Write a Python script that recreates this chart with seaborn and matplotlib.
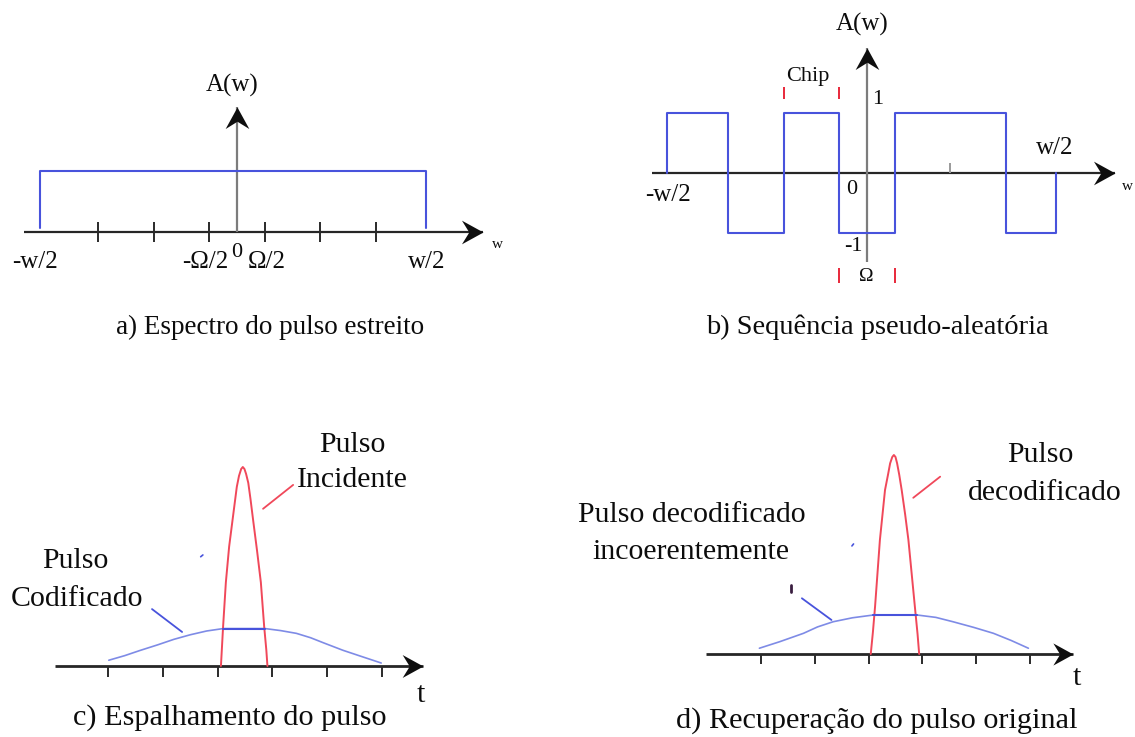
import matplotlib
matplotlib.use("Agg")
import matplotlib.pyplot as plt
from matplotlib.path import Path
import seaborn as sns

# ---------------- a) spectrum of the narrow pulse ----------------
a_band_edges = [-3.55, 3.40]          # -w/2 ... w/2 (in units of Omega)
a_band_level = 1.0
a_ticks = [-2.5, -1.5, -0.5, 0.5, 1.5, 2.5]
a_tick_text = ["-w/2", "-\u03a9/2", "0", "\u03a9/2", "w/2"]
a_tick_text_x = [-3.63, -0.58, 0.0, 0.54, 3.42]

# ---------------- b) pseudo-random sequence ----------------
b_chip_edges = [-3.6, -2.5, -1.5, -0.5, 0.5, 1.5, 2.5, 3.4]
b_chip_values = [1, -1, 1, -1, 1, 1, -1]
b_chip_ticks = [-2.5, -1.5, -0.5, 0.5, 1.5, 2.5]
b_chip_marker = [-1.5, -0.5]          # one chip width
b_omega_marker = [-0.5, 0.5]          # Omega

# ---------------- c) pulse spreading ----------------
c_ticks = [-2.5, -1.5, -0.5, 0.5, 1.5, 2.5]
c_incident_t = [-0.44, -0.42, -0.40, -0.35, -0.29, -0.22, -0.15, -0.11, -0.07,
                -0.04, -0.01, 0.02, 0.06, 0.10, 0.15, 0.22, 0.29, 0.35, 0.39, 0.41]
c_incident_amp = [0.0, 0.10, 0.20, 0.42, 0.60, 0.75, 0.90, 0.955, 0.99,
                  1.0, 0.99, 0.965, 0.92, 0.84, 0.73, 0.58, 0.42, 0.20, 0.08, 0.0]
c_coded_t = [-2.49, -2.20, -1.92, -1.60, -1.30, -1.00, -0.70, -0.40,
             0.37, 0.65, 0.94, 1.20, 1.43, 1.79, 2.15, 2.49]
c_coded_amp = [0.029, 0.052, 0.078, 0.106, 0.134, 0.157, 0.176, 0.188,
               0.188, 0.178, 0.164, 0.142, 0.117, 0.079, 0.046, 0.015]

# ---------------- d) recovery of the original pulse ----------------
d_ticks = [-2.5, -1.5, -0.5, 0.5, 1.5, 2.5]
d_decoded_t = [-0.46, -0.42, -0.38, -0.29, -0.195, -0.14, -0.10, -0.06,
               -0.03, 0.00, 0.03, 0.07, 0.115, 0.18, 0.24, 0.36, 0.41, 0.44]
d_decoded_amp = [0.0, 0.11, 0.238, 0.573, 0.824, 0.90, 0.958, 0.99,
                 1.0, 0.99, 0.958, 0.90, 0.824, 0.70, 0.573, 0.238, 0.10, 0.0]
d_incoherent_t = [-2.53, -2.15, -1.71, -1.45, -1.16, -0.80, -0.41,
                  0.40, 0.75, 1.07, 1.45, 1.82, 2.15, 2.47]
d_incoherent_amp = [0.029, 0.062, 0.104, 0.136, 0.162, 0.182, 0.196,
                    0.196, 0.184, 0.162, 0.134, 0.104, 0.068, 0.029]

# ---------------- style ----------------
sns.set_theme(style="white")
plt.rcParams["font.family"] = ["Liberation Serif", "DejaVu Serif"]

BLUE = "#4853dc"
BLUE_LIGHT = "#6877e2"
RED = "#e8283a"
RED_LIGHT = "#f0485a"
INK = "#0c0c0c"
AXIS_DARK = "#262626"
AXIS_GREY = "#7c7c7c"

W, H = 1135, 737
fig = plt.figure(figsize=(W / 100, H / 100), dpi=100)
fig.patch.set_facecolor("white")

HEAD_RIGHT = Path([(0, 0), (-1, 0.55), (-0.66, 0), (-1, -0.55), (0, 0)],
                  [Path.MOVETO, Path.LINETO, Path.LINETO, Path.LINETO, Path.CLOSEPOLY])
HEAD_UP = Path([(0, 0), (0.55, -1), (0, -0.66), (-0.55, -1), (0, 0)],
               [Path.MOVETO, Path.LINETO, Path.LINETO, Path.LINETO, Path.CLOSEPOLY])


def panel(origin, sx, sy, xlim, ylim):
    """Axes whose data origin sits at `origin` (pixels from top-left) with sx/sy px per unit."""
    ox, oy = origin
    left = ox + xlim[0] * sx
    right = ox + xlim[1] * sx
    top = oy - ylim[1] * sy
    bottom = oy - ylim[0] * sy
    ax = fig.add_axes([left / W, 1 - bottom / H, (right - left) / W, (bottom - top) / H])
    ax.set_axis_off()
    ax._lims = (xlim, ylim)
    return ax


def finish(ax):
    xlim, ylim = ax._lims
    ax.set_xlim(*xlim)
    ax.set_ylim(*ylim)


def trace(ax, x, y, color, lw, alpha=1.0, z=3):
    sns.lineplot(x=x, y=y, ax=ax, estimator=None, sort=False, color=color,
                 lw=lw, alpha=alpha, legend=False, zorder=z)


def h_arrow(ax, x0, x1, color=AXIS_DARK, lw=1.6, ms=30):
    ax.plot([x0, x1], [0, 0], color=color, lw=lw, solid_capstyle="butt", zorder=2)
    ax.plot([x1], [0], marker=HEAD_RIGHT, ms=ms, color="#0e0e0e", mew=0, zorder=5)


def v_arrow(ax, y0, y1, color=AXIS_GREY, lw=1.6, ms=30):
    ax.plot([0, 0], [y0, y1], color=color, lw=lw, solid_capstyle="butt", zorder=2)
    ax.plot([0], [y1], marker=HEAD_UP, ms=ms, color="#0e0e0e", mew=0, zorder=5)


def label(ax, x, y, s, size, **kw):
    ax.text(x, y, s, fontsize=size, color=INK, ha="center", va="center",
            clip_on=False, **kw)


# ======================= a) =======================
axa = panel((237, 232), 55.6, 61, (-4.3, 5.0), (-1.9, 2.6))
h_arrow(axa, -3.83, 4.42, color=AXIS_DARK, lw=1.6, ms=31)
v_arrow(axa, 0, 2.05, color=AXIS_GREY, lw=1.6, ms=31)
axa.vlines(a_ticks, -0.16, 0.16, color="#2a2a2a", lw=1.4, zorder=2)
trace(axa, [a_band_edges[0], a_band_edges[0], a_band_edges[1], a_band_edges[1]],
      [0.06, a_band_level, a_band_level, 0.06], BLUE, 1.5)
for s, x in zip(a_tick_text, a_tick_text_x):
    if s == "0":
        label(axa, x, -0.34, s, 16)
    else:
        label(axa, x, -0.49, s, 18)
label(axa, 4.68, -0.21, "w", 11)
label(axa, -0.09, 2.41, "A(w)", 18)
label(axa, 0.6, -1.56, "a) Espectro do pulso estreito", 19.5)
finish(axa)

# ======================= b) =======================
axb = panel((867, 173), 55.5, 60, (-4.2, 5.0), (-2.8, 2.8))
h_arrow(axb, -3.87, 4.47, color=AXIS_DARK, lw=1.6, ms=31)
v_arrow(axb, -1.48, 2.08, color=AXIS_GREY, lw=1.6, ms=31)
axb.vlines(b_chip_ticks, 0, 0.17, color="#9a9a9a", lw=1.4, zorder=2)
wave_x, wave_y = [b_chip_edges[0]], [0]
for i, v in enumerate(b_chip_values):
    wave_x += [b_chip_edges[i], b_chip_edges[i + 1]]
    wave_y += [v, v]
wave_x.append(b_chip_edges[-1])
wave_y.append(0)
trace(axb, wave_x, wave_y, BLUE, 1.5)
axb.vlines(b_chip_marker, 1.23, 1.43, color=RED, lw=1.4, zorder=3)
axb.vlines(b_omega_marker, -1.58, -1.83, color=RED, lw=1.4, zorder=3)
label(axb, -0.09, 2.47, "A(w)", 18)
label(axb, -1.06, 1.6, "Chip", 16)
label(axb, 0.2, 1.23, "1", 16)
label(axb, -0.27, -0.28, "0", 16)
label(axb, -0.25, -1.23, "-1", 16)
label(axb, -0.02, -1.73, "\u03a9", 14)
label(axb, -3.59, -0.37, "-w/2", 18)
label(axb, 3.39, 0.42, "w/2", 18)
label(axb, 4.7, -0.23, "w", 11)
label(axb, 0.18, -2.57, "b) Sequ\u00eancia pseudo-aleat\u00f3ria", 20.5)
finish(axb)

# ======================= c) =======================
axc = panel((245, 666), 54.7, 199, (-4.3, 3.8), (-0.4, 1.2))
h_arrow(axc, -3.47, 3.26, color=AXIS_DARK, lw=2.0, ms=30)
axc.vlines(c_ticks, -0.055, 0, color="#2a2a2a", lw=1.4, zorder=2)
trace(axc, c_incident_t, c_incident_amp, RED_LIGHT, 1.4, z=4)
trace(axc, c_coded_t, c_coded_amp, BLUE_LIGHT, 1.2, alpha=0.85)
top_c = max(c_coded_amp)
flat_c = [t for t, a in zip(c_coded_t, c_coded_amp) if a == top_c]
trace(axc, flat_c, [top_c] * len(flat_c), BLUE, 1.5, z=5)
trace(axc, [0.33, 0.88], [0.79, 0.91], RED_LIGHT, 1.3)
trace(axc, [-1.70, -1.15], [0.286, 0.171], BLUE, 1.3)
trace(axc, [-0.81, -0.77], [0.549, 0.558], BLUE, 1.2)
label(axc, 1.97, 1.11, "Pulso", 21.5)
label(axc, 1.96, 0.935, "Incidente", 21.5)
label(axc, -3.11, 0.528, "Pulso", 21.5)
label(axc, -3.07, 0.337, "Codificado", 21.5)
label(axc, 3.22, -0.146, "t", 21.5)
label(axc, -0.27, -0.26, "c) Espalhamento do pulso", 21.8)
finish(axc)

# ======================= d) =======================
axd = panel((895.5, 654), 53.8, 199, (-4.3, 4.5), (-0.45, 1.2))
h_arrow(axd, -3.52, 3.30, color=AXIS_DARK, lw=2.0, ms=29)
axd.vlines(d_ticks, -0.05, 0, color="#2a2a2a", lw=1.4, zorder=2)
trace(axd, d_decoded_t, d_decoded_amp, RED_LIGHT, 1.4, z=4)
trace(axd, d_incoherent_t, d_incoherent_amp, BLUE_LIGHT, 1.2, alpha=0.85)
top_d = max(d_incoherent_amp)
flat_d = [t for t, a in zip(d_incoherent_t, d_incoherent_amp) if a == top_d]
trace(axd, flat_d, [top_d] * len(flat_d), BLUE, 1.5, z=5)
trace(axd, [0.33, 0.83], [0.785, 0.891], RED_LIGHT, 1.3)
trace(axd, [-1.74, -1.19], [0.28, 0.171], BLUE, 1.3)
trace(axd, [-1.95, -1.95], [0.347, 0.31], "#3a1e40", 2.0)
trace(axd, [-0.81, -0.78], [0.543, 0.553], BLUE, 1.2)
label(axd, 2.70, 1.0, "Pulso", 21.5)
label(axd, 2.78, 0.81, "decodificado", 21.5)
label(axd, -3.78, 0.70, "Pulso decodificado", 21.5)
label(axd, -3.80, 0.513, "incoerentemente", 21.5)
label(axd, 3.37, -0.122, "t", 21.5)
label(axd, -0.35, -0.332, "d) Recupera\u00e7\u00e3o do pulso original", 21.8)
finish(axd)

fig.savefig("out.png", dpi=100, facecolor="white")
